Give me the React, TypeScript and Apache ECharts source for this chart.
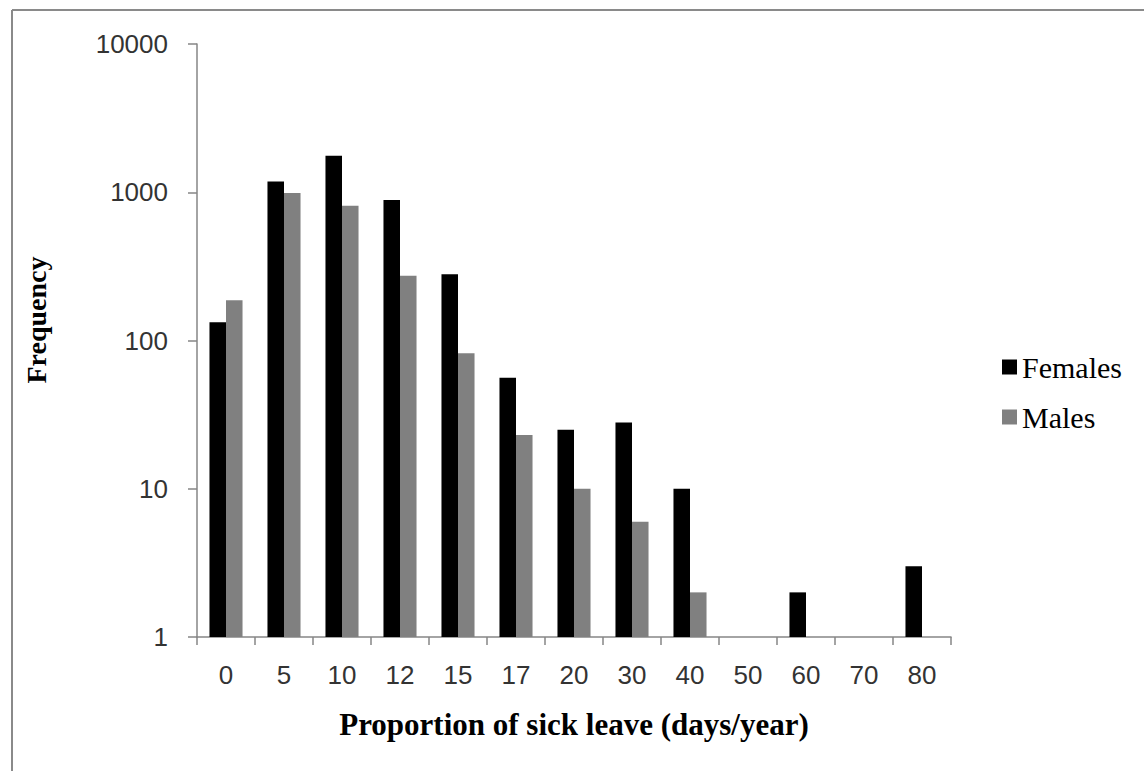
import React, { useEffect, useRef } from "react";
import * as echarts from "echarts";

const categories = ["0", "5", "10", "12", "15", "17", "20", "30", "40", "50", "60", "70", "80"];
const females: (number | null)[] = [133, 1180, 1760, 885, 280, 56, 25, 28, 10, null, 2, null, 3];
const males: (number | null)[] = [187, 990, 810, 273, 82, 23, 10, 6, 2, null, null, null, null];
const yTicks = [1, 10, 100, 1000, 10000];

export default function App() {
  const ref = useRef<HTMLDivElement>(null);
  useEffect(() => {
    if (!ref.current) return;
    const chart = echarts.init(ref.current, undefined, { renderer: "svg" });
    const axisColor = "#868686";
    chart.setOption({
      animation: false,
      backgroundColor: "#ffffff",
      grid: { left: 197, right: 193, top: 44, bottom: 134, containLabel: false },
      legend: {
        orient: "vertical",
        left: 997,
        top: 347,
        itemWidth: 15,
        itemHeight: 15,
        itemGap: 20,
        icon: "rect",
        textStyle: { fontFamily: "Liberation Serif", fontSize: 30, color: "#000" },
        data: ["Females", "Males"],
      },
      xAxis: {
        type: "category",
        data: categories,
        axisLine: { lineStyle: { color: axisColor, width: 1.5 } },
        axisTick: { show: true, length: 8, lineStyle: { color: axisColor, width: 1.5 } },
        axisLabel: { color: "#333", fontFamily: "Liberation Sans", fontSize: 26, margin: 25 },
        name: "Proportion of sick leave (days/year)",
        nameLocation: "middle",
        nameGap: 72,
        nameTextStyle: { fontFamily: "Liberation Serif", fontWeight: "bold", fontSize: 31, color: "#000" },
      },
      yAxis: {
        type: "log",
        logBase: 10,
        min: yTicks[0],
        max: yTicks[yTicks.length - 1],
        axisLine: { show: true, lineStyle: { color: axisColor, width: 1.5 } },
        axisTick: { show: true, length: 9, lineStyle: { color: axisColor, width: 1.5 } },
        splitLine: { show: false },
        axisLabel: {
          color: "#333",
          fontFamily: "Liberation Sans",
          fontSize: 26,
          margin: 29,
          formatter: (v: number) => String(Math.round(v)),
        },
      },
      series: [
        {
          name: "Females",
          type: "bar",
          data: females,
          barGap: "0%",
          barCategoryGap: "43%",
          itemStyle: { color: "#000000" },
        },
        {
          name: "Males",
          type: "bar",
          data: males,
          barGap: "0%",
          barCategoryGap: "43%",
          itemStyle: { color: "#808080" },
        },
      ],
      graphic: [
        { type: "line", shape: { x1: 12, y1: 10, x2: 1144, y2: 10 }, style: { stroke: "#8a8a8a", lineWidth: 2 } },
        { type: "line", shape: { x1: 12, y1: 10, x2: 12, y2: 771 }, style: { stroke: "#8a8a8a", lineWidth: 2 } },
        {
          type: "text",
          x: 36,
          y: 320,
          rotation: Math.PI / 2,
          style: {
            text: "Frequency",
            fontFamily: "Liberation Serif",
            fontWeight: "bold",
            fontSize: 28,
            fill: "#000",
            textAlign: "center",
            textVerticalAlign: "middle",
          },
        },
      ],
    });
    return () => chart.dispose();
  }, []);
  return (
    <div
      ref={ref}
      style={{ position: "fixed", left: 0, top: 0, width: 1144, height: 771, background: "#fff" }}
    />
  );
}
